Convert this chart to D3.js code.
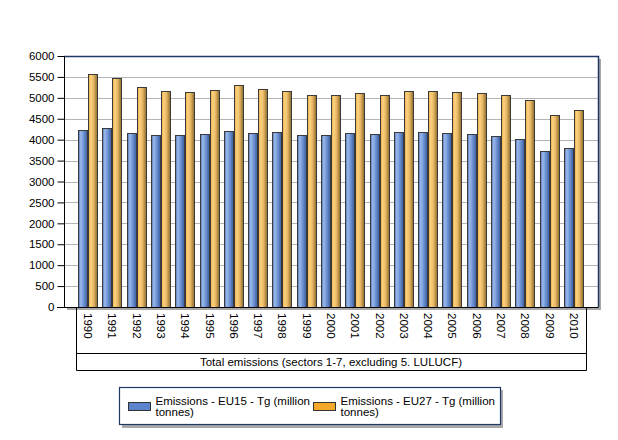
<!DOCTYPE html>
<html><head><meta charset="utf-8">
<script src="https://cdn.jsdelivr.net/npm/d3@7"></script>
<style>body{margin:0;background:#fff}svg{display:block}text{font-family:"Liberation Sans",Arial,sans-serif;font-size:11.5px;fill:#000}</style>
</head><body><svg id="c" width="618" height="440"></svg>
<script>
const years = ["1990","1991","1992","1993","1994","1995","1996","1997","1998","1999","2000","2001","2002","2003","2004","2005","2006","2007","2008","2009","2010"];
const eu15 = [4243,4267,4171,4100,4100,4147,4219,4171,4195,4123,4123,4171,4147,4195,4195,4171,4147,4076,4004,3718,3790];
const eu27 = [5580,5485,5270,5174,5150,5198,5317,5222,5174,5078,5078,5126,5078,5174,5174,5150,5126,5078,4959,4601,4720];
const seriesNames = ["Emissions - EU15 - Tg (million tonnes)","Emissions - EU27 - Tg (million tonnes)"];
const yTicks = d3.range(0, 6001, 500);
const categoryTitle = "Total emissions (sectors 1-7, excluding 5. LULUCF)";

const svg = d3.select("#c");
const defs = svg.append("defs");
function grad(id, stops){
  const g = defs.append("linearGradient").attr("id", id).attr("x1","0").attr("x2","1").attr("y1","0").attr("y2","0");
  stops.forEach(([o,c])=>g.append("stop").attr("offset",o).attr("stop-color",c));
}
grad("gBlue",[[0,"#4e72b4"],[0.25,"#9cb9ea"],[0.55,"#7096d6"],[1,"#3c5c9c"]]);
grad("gOrange",[[0,"#e8a840"],[0.25,"#ffd27e"],[0.55,"#e8b866"],[1,"#8c6a2c"]]);

const L = 64, R = 598, T = 56, B = 307;
const catL = 76, catR = 586;
const y = d3.scaleLinear().domain([0, 6000]).range([B, T]);
const x = d3.scaleBand().domain(years).range([catL, catR]).paddingInner(0.175).paddingOuter(0.09);
const xs = d3.scaleBand().domain([0,1]).range([0, x.bandwidth()]);

// shadow of plot
svg.append("rect").attr("x", L+3).attr("y", T+3).attr("width", R-L).attr("height", B-T).attr("fill", "#a8a8a8");
svg.append("rect").attr("x", L).attr("y", T).attr("width", R-L).attr("height", B-T).attr("fill", "#fff");

// grid
svg.append("g").selectAll("line").data(yTicks.filter(d=>d>0 && d<6000)).join("line")
  .attr("x1", L).attr("x2", R).attr("y1", d=>Math.round(y(d))+0.5).attr("y2", d=>Math.round(y(d))+0.5)
  .attr("stroke", "#b4b4b4").attr("stroke-width", 1);

// bars
const data = years.map((yr,i)=>({yr, v:[eu15[i], eu27[i]]}));
const grp = svg.append("g").selectAll("g").data(data).join("g");
grp.selectAll("rect").data(d=>d.v.map((v,k)=>({yr:d.yr,v,k}))).join("rect")
  .attr("x", d=>Math.round(x(d.yr)+xs(d.k))+0.5)
  .attr("y", d=>Math.round(y(d.v))+0.5)
  .attr("width", Math.round(xs.bandwidth())-1)
  .attr("height", d=>B-Math.round(y(d.v)))
  .attr("fill", d=>d.k===0?"url(#gBlue)":"url(#gOrange)")
  .attr("stroke", "#3a3a3a").attr("stroke-width", 1);

// plot border: top & right navy
svg.append("path").attr("d", `M${L},${T+0.5}H${R+0.5}V${B}`).attr("fill","none").attr("stroke","#1f3864").attr("stroke-width",1.5);

// y axis
const yAxis = d3.axisLeft(y).tickValues(yTicks).tickSize(7).tickPadding(3).tickFormat(d3.format("d"));
const ya = svg.append("g").attr("transform", `translate(${L+0.5},0)`).call(yAxis);
ya.select(".domain").attr("stroke","#000").attr("d", `M0,${T}V${B+0.5}`);
ya.selectAll(".tick line").attr("stroke","#000");
ya.selectAll(".tick text").attr("font-family","Liberation Sans, Arial, sans-serif").attr("font-size","11.5px").attr("fill","#000");

// bottom axis line
svg.append("line").attr("x1", L-7).attr("x2", R+0.5).attr("y1", B+0.5).attr("y2", B+0.5).attr("stroke","#000");

// category table
svg.append("path").attr("d", `M${catL+0.5},${B}V${370.5}H${catR+0.5}V${B}`).attr("fill","none").attr("stroke","#000");
svg.append("line").attr("x1", catL).attr("x2", catR).attr("y1", 353.5).attr("y2", 353.5).attr("stroke","#000");
svg.append("g").selectAll("text").data(years).join("text")
  .attr("transform", d=>`translate(${x(d)+x.bandwidth()/2-4},313) rotate(90)`)
  .attr("text-anchor","start").attr("dy","0")
  .text(d=>d);
svg.append("text").attr("x", (catL+catR)/2).attr("y", 366).attr("text-anchor","middle").text(categoryTitle);

// legend
const lg = svg.append("g");
lg.append("rect").attr("x", 122).attr("y", 390).attr("width", 381).attr("height", 38).attr("fill","#a8a8a8");
lg.append("rect").attr("x", 119.5).attr("y", 387.5).attr("width", 381).attr("height", 37).attr("fill","#fff").attr("stroke","#1f3864").attr("stroke-width",1.2);
const sw = [["#5b84cc",128.5,155.5],["#f5a82a",313.5,340.5]];
seriesNames.forEach((name,i)=>{
  lg.append("rect").attr("x", sw[i][1]).attr("y", 402.5).attr("width", 22).attr("height", 8).attr("fill", sw[i][0]).attr("stroke","#333");
  const words = name.split(" (");
  const t = lg.append("text").attr("x", sw[i][2]).attr("y", 405);
  t.append("tspan").attr("x", sw[i][2]).attr("dy", 0).text(name.replace(" tonnes)",""));
  t.append("tspan").attr("x", sw[i][2]).attr("dy", 11).text("tonnes)");
});
</script></body></html>
